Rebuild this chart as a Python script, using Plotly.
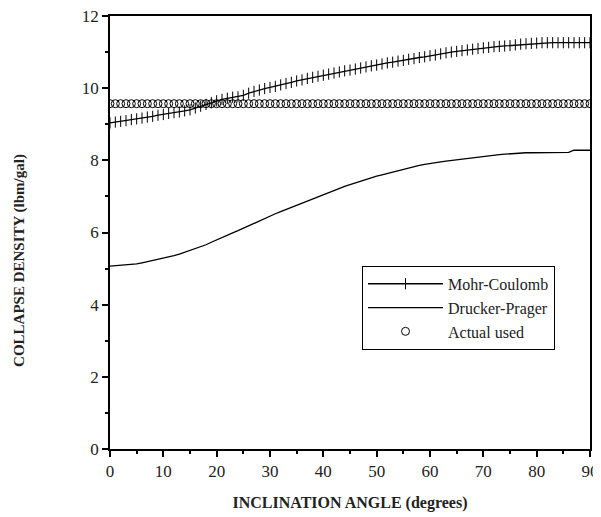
import plotly.graph_objects as go

# Neigungswinkel in Grad
angle = list(range(0, 91))

mohr_coulomb = [
    9.04, 9.06, 9.08, 9.10, 9.13, 9.15, 9.17, 9.20, 9.22, 9.25,
    9.27, 9.30, 9.32, 9.34, 9.37, 9.40, 9.45, 9.50, 9.55, 9.60,
    9.65, 9.69, 9.72, 9.75, 9.76, 9.80, 9.86, 9.91, 9.95, 9.99,
    10.02, 10.05, 10.09, 10.13, 10.16, 10.20, 10.23, 10.27, 10.30, 10.33,
    10.36, 10.39, 10.42, 10.45, 10.48, 10.50, 10.53, 10.56, 10.59, 10.62,
    10.64, 10.67, 10.70, 10.72, 10.75, 10.77, 10.80, 10.82, 10.85, 10.87,
    10.90, 10.92, 10.95, 10.98, 11.00, 11.02, 11.04, 11.06, 11.08, 11.10,
    11.12, 11.13, 11.15, 11.16, 11.17, 11.18, 11.20, 11.22, 11.23, 11.24,
    11.25, 11.26, 11.26, 11.26, 11.26, 11.26, 11.26, 11.26, 11.26, 11.26,
    11.26,
]

drucker_prager = [
    5.07, 5.08, 5.11, 5.12, 5.12, 5.13, 5.16, 5.19, 5.22, 5.25,
    5.28, 5.32, 5.36, 5.40, 5.45, 5.50, 5.55, 5.60, 5.66, 5.73,
    5.80, 5.86, 5.92, 5.99, 6.05, 6.12, 6.19, 6.26, 6.33, 6.40,
    6.46, 6.52, 6.58, 6.64, 6.70, 6.75, 6.81, 6.88, 6.94, 7.00,
    7.06, 7.12, 7.17, 7.22, 7.28, 7.33, 7.38, 7.42, 7.47, 7.51,
    7.56, 7.60, 7.64, 7.68, 7.72, 7.76, 7.79, 7.83, 7.86, 7.89,
    7.92, 7.94, 7.96, 7.98, 8.00, 8.02, 8.04, 8.06, 8.07, 8.09,
    8.10, 8.12, 8.14, 8.16, 8.17, 8.18, 8.21, 8.21, 8.21, 8.21,
    8.21, 8.21, 8.21, 8.21, 8.21, 8.22, 8.22, 8.28, 8.28, 8.28,
    8.28,
]

actual_used = [9.57] * len(angle)

fig = go.Figure()

fig.add_trace(go.Scatter(x=angle, y=mohr_coulomb, mode="lines+markers", name="Mohr-Coulomb",
                         line=dict(color="black", width=1.3),
                         marker=dict(symbol="line-ns-open", size=8, color="black",
                                     line=dict(color="black", width=1))))

fig.add_trace(go.Scatter(x=angle, y=drucker_prager, mode="lines", name="Drucker-Prager",
                         line=dict(color="black", width=1.3)))

fig.add_trace(go.Scatter(x=angle, y=actual_used, mode="markers", name="Actual used",
                         marker=dict(symbol="circle-open", size=8, color="black",
                                     line=dict(color="black", width=1))))

font_serif = "Liberation Serif, Times New Roman, serif"

# Seite hat 8px Body-Rand, daher Figur etwas kleiner
fig.update_layout(
    width=593, height=509,
    margin=dict(l=102, r=11, t=8, b=68),
    plot_bgcolor="white", paper_bgcolor="white",
    font=dict(family=font_serif, color="#222", size=17),
    showlegend=True,
    legend=dict(x=0.525, y=0.423, xanchor="left", yanchor="top",
                bordercolor="black", borderwidth=1, bgcolor="white",
                font=dict(size=16, family=font_serif, color="#222"),
                itemwidth=75, tracegroupgap=0),
    xaxis=dict(range=[0, 90], tickmode="linear", tick0=0, dtick=10, automargin=False,
               showgrid=False, zeroline=False, ticklabeloverflow="allow",
               showline=True, linecolor="black", linewidth=1.5, mirror=True,
               ticks="outside", ticklen=6, tickwidth=1.5, tickcolor="black",
               minor=dict(dtick=5, ticks="outside", ticklen=3, tickcolor="black"),
               title=dict(text="<b>INCLINATION ANGLE (degrees)</b>", font=dict(size=16), standoff=17)),
    yaxis=dict(range=[0, 12], tickmode="linear", tick0=0, dtick=2, automargin=False,
               showgrid=False, zeroline=False, ticklabeloverflow="allow",
               showline=True, linecolor="black", linewidth=1.5, mirror=True,
               ticks="outside", ticklen=6, tickwidth=1.5, tickcolor="black",
               minor=dict(dtick=1, ticks="outside", ticklen=3, tickcolor="black")),
)

# Y-Achsentitel als Annotation, damit die Position stimmt
fig.add_annotation(text="<b>COLLAPSE DENSITY (lbm/gal)</b>", textangle=-90,
                   xref="paper", yref="paper", x=-0.21, y=0.436,
                   showarrow=False, font=dict(size=15, family=font_serif, color="#222"))

fig.write_html("out.html")
